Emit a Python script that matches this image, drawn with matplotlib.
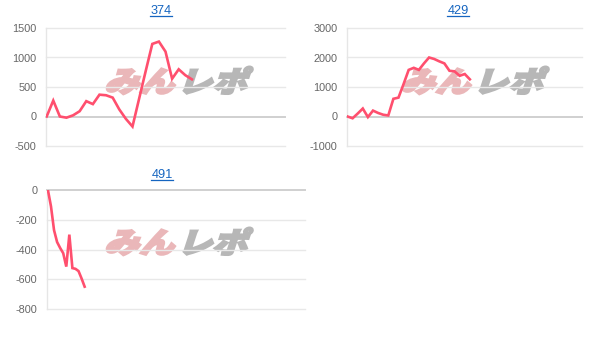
import matplotlib
matplotlib.use("Agg")
import matplotlib.pyplot as plt
from matplotlib.textpath import TextPath
from matplotlib.patches import PathPatch
from matplotlib.font_manager import FontProperties
from matplotlib.transforms import Affine2D
from matplotlib.lines import Line2D

plt.rcParams['font.family'] = ['Liberation Sans', 'DejaVu Sans']

# ---- data ----
titles = ["374", "429", "491"]
series_374 = [0, 270, 0, -20, 20, 90, 260, 210, 370, 360, 320, 120, -40, -170,
              300, 770, 1230, 1270, 1100, 640, 800, 700, 630]
series_429 = [0, -60, 100, 270, -20, 200, 120, 60, 35, 600, 640, 1100, 1580, 1650,
              1580, 1800, 2000, 1950, 1870, 1800, 1550, 1530, 1380, 1440, 1260]
series_491 = [0, -110, -270, -350, -390, -425, -515, -300, -525, -530, -545, -595, -650]
yticks_374 = [-500, 0, 500, 1000, 1500]
yticks_429 = [-1000, 0, 1000, 2000, 3000]
yticks_491 = [-800, -600, -400, -200, 0]

W, H = 611, 339
fig = plt.figure(figsize=(W / 100, H / 100), dpi=100)

def px_axes(l, r, t, b):
    return fig.add_axes([l / W, (H - b) / H, (r - l) / W, (b - t) / H])

LINE = '#ff4f6e'
specs = [
    (series_374, yticks_374, (46, 285, 28, 146), 36.1, -0.1),
    (series_429, yticks_429, (347, 582, 28, 146), 46.0, -0.1),
    (series_491, yticks_491, (47, 305, 190, 309), 84.0, -0.3),
]

for data, yt, box, xmax, xmin in specs:
    ax = px_axes(*box)
    ax.set_facecolor('none')
    ax.plot(range(len(data)), data, color=LINE, lw=1.9, solid_joinstyle='miter', zorder=3)
    ax.set_xlim(xmin, xmax)
    ax.set_ylim(yt[0], yt[-1])
    ax.set_yticks(yt)
    ax.set_yticklabels([str(v) for v in yt])
    ax.set_xticks([])
    for v in yt:
        c = '#d0d0d0' if v == 0 else '#e8e8e8'
        ax.axhline(v, color=c, lw=1.0 if v != 0 else 1.4, zorder=1, clip_on=False)
    for s in ['top', 'right', 'bottom']:
        ax.spines[s].set_visible(False)
    ax.spines['left'].set_color('#e6e6e6')
    ax.spines['left'].set_linewidth(1.0)
    ax.tick_params(axis='y', length=0, pad=7, labelsize=7.8, labelcolor='#666666')

# ---- watermark ----
fp = FontProperties(family=['Noto Sans CJK JP'], weight='black')

def watermark(x0, y0):
    # x0, y0: left / baseline in pixels (from bottom-left)
    parts = [("みん", '#eab7b9'), ("レポ", '#b7b7b7')]
    x = x0
    for txt, col in parts:
        tp = TextPath((0, 0), txt, size=1.0, prop=fp)
        tr = (Affine2D().scale(35 / 100, 29 / 100).skew_deg(18, 0)
              .translate(x / 100, y0 / 100)) + fig.dpi_scale_trans
        p = PathPatch(tp, facecolor=col, edgecolor=col, lw=1.6,
                      transform=tr, zorder=-1)
        fig.add_artist(p)
        x += 35 * len(txt) + 3

watermark(104, H - 92)
watermark(400, H - 92)
watermark(104, H - 253)

# ---- titles (link style) ----
title_pos = [(161, 11), (458, 11), (162, 175)]
texts = []
for t, (x, y) in zip(titles, title_pos):
    tx = fig.text(x / W, (H - y) / H, t, ha='center', va='center',
                  fontsize=9.2, color='#1565c0')
    texts.append(tx)

fig.canvas.draw()
r = fig.canvas.get_renderer()
for tx in texts:
    bb = tx.get_window_extent(r)
    yb = bb.y0 + 1.0
    fig.add_artist(Line2D([bb.x0 / W, bb.x1 / W], [yb / H, yb / H],
                          transform=fig.transFigure, color='#1565c0', lw=0.9))

fig.savefig('out.png', dpi=100, facecolor='white')
